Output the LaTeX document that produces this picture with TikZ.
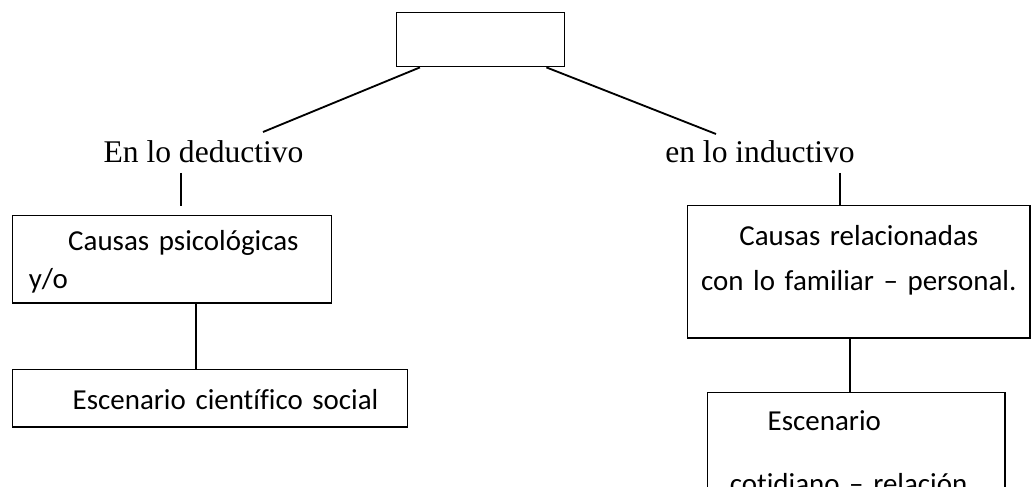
\documentclass[tikz,border=0pt]{standalone}
\usepackage{fontspec}
\setmainfont{Liberation Serif}
\newfontfamily\calibri[Ligatures=NoCommon]{Carlito}

\tikzset{
  caja/.style={draw, line width=.55pt, anchor=north west, inner ysep=0pt, inner xsep=6.1pt},
  rotulo/.style={anchor=base, inner sep=3.4pt, font=\fontsize{12}{14}\selectfont},
  rama/.style={line width=.7pt},
}

\begin{document}
\begin{tikzpicture}[x=.38pt,y=-.38pt]
\clip (0,0) rectangle (1031,487);
% el recuadro de arriba, vacio
\node[caja, minimum width=63.8pt, minimum height=20.5pt] (raiz) at (396,12) {};

\node[rotulo] (deduc) at (203.5,163) {En lo deductivo};
\node[rotulo] (induc) at (760,163) {en lo inductivo};

% lado deductivo
\node[caja, text width=109pt, text height=13.3pt, text depth=19.8pt, align=left,
      font=\calibri\fontsize{11}{13.4}\selectfont] (psico) at (12,215)
      {\hspace*{15pt}Causas psicológicas\\[1pt]y/o};
\node[caja, text width=137.9pt, text height=15.2pt, text depth=6.5pt, align=left,
      font=\calibri\fontsize{11}{13.4}\selectfont] (cientifico) at (12,369)
      {\hspace*{16.7pt}Escenario científico social};

% lado inductivo
\node[caja, inner xsep=2pt, text width=126pt, text height=15.2pt, text depth=35pt, align=center,
      font=\calibri\fontsize{11}{13.4}\selectfont] (familiar) at (687,205)
      {Causas relacionadas\\[3.7pt]con lo familiar – personal.};
\node[caja, inner xsep=8.4pt, text width=96.1pt, text height=14.4pt, text depth=49.4pt, align=left,
      font=\calibri\fontsize{11}{13.4}\selectfont] (cotidiano) at (707,392)
      {\hspace*{14.4pt}Escenario\\[10.6pt]cotidiano – relación};

\coordinate (ramaI) at (263,132);
\coordinate (ramaD) at (716,134);
\coordinate (ejeI) at (181,206);
\coordinate (ejeD) at (840,0);
\coordinate (ejeP) at (196,0);
\coordinate (ejeF) at (850,0);

\draw[rama] ([xshift=9.1pt]raiz.south west) -- (ramaI);
\draw[rama] ([xshift=-7.2pt]raiz.south east) -- (ramaD);
\draw[rama] (deduc.south -| ejeI) -- (ejeI);
\draw[rama] (induc.south -| ejeD) -- (familiar.north -| ejeD);
\draw[rama] (psico.south -| ejeP) -- (cientifico.north -| ejeP);
\draw[rama] (familiar.south -| ejeF) -- (cotidiano.north -| ejeF);
\end{tikzpicture}
\end{document}
